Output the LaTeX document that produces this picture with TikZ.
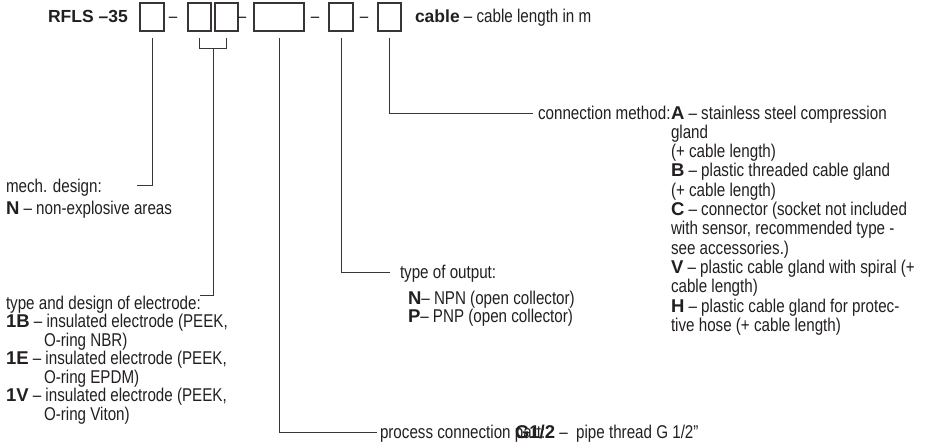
\documentclass[tikz,border=0pt]{standalone}
\usepackage{fontspec}
\setmainfont{Liberation Sans}[FakeStretch=0.82]
\newfontfamily\widefont{Liberation Sans}
\newcommand\bb[1]{{\widefont\bfseries #1}}
\definecolor{ink}{HTML}{231F20}
\tikzset{
  txt/.style={inner sep=0pt, outer sep=0pt, anchor=base west, text=ink,
    font=\fontsize{18.5}{18.5}\selectfont, text height=12pt, text depth=0pt},
  ttl/.style={txt, font=\widefont\bfseries\fontsize{17.5}{17.5}\selectfont},
  box/.style={draw=ink!90, line width=1.1pt, inner sep=0pt, outer sep=0pt, minimum height=28pt},
  conn/.style={draw=ink!90, line width=1pt},
}
\begin{document}
\begin{tikzpicture}[x=1pt,y=-1pt]
\useasboundingbox (0,0) rectangle (925,447);
% title row
\node[ttl] (rf) at (48,22) {RFLS –35};
\node[box, minimum width=24pt] (b1) at (152,17) {};
\node[box, minimum width=23pt] (b2) at (199.5,17) {};
\node[box, minimum width=23pt] (b3) at (226.5,17) {};
\node[box, minimum width=50pt] (b4) at (279,17) {};
\node[box, minimum width=24pt] (b5) at (341,17) {};
\node[box, minimum width=23pt] (b6) at (389.5,17) {};
\node[txt, anchor=base] (d1) at (173,22) {–};
\node[txt, anchor=base] (d2) at (242,22) {–};
\node[txt, anchor=base] (d3) at (315,22) {–};
\node[txt, anchor=base] (d4) at (364,22) {–};
\node[txt] (cab) at (415,22) {{\widefont\bfseries\fontsize{17.5}{17.5}\selectfont cable} – cable length in m};
% mech design
\node[txt] (mech) at (6,192) {mech. design:};
\node[txt] (mechN) at (6,214) {\bb{N} – non-explosive areas};
\coordinate (m1) at (137,185);
% electrode
\node[txt] (el) at (6,309) {type and design of electrode:};
\node[txt] (el1) at (6,327.5) {\bb{1B} – insulated electrode (PEEK,};
\node[txt] (el2) at (44,346) {O-ring NBR)};
\node[txt] (el3) at (6,364.5) {\bb{1E} – insulated electrode (PEEK,};
\node[txt] (el4) at (44,383) {O-ring EPDM)};
\node[txt] (el5) at (6,401.5) {\bb{1V} – insulated electrode (PEEK,};
\node[txt] (el6) at (44,420) {O-ring Viton)};
\coordinate (e1) at (200,295);
\coordinate (brk) at (213,48);
% output
\node[txt] (out) at (400,278) {type of output:};
\node[txt] (outN) at (408,304) {\bb{N}– NPN (open collector)};
\node[txt] (outP) at (408,322) {\bb{P}– PNP (open collector)};
% process connection
\node[txt] (pc) at (380,438) {process connection part:};
\node[txt] (g12) at (515,438) {\bb{G1/2} –\ \ pipe thread G 1/2”};
% connection method
\node[txt, anchor=base east] (cm) at (670.5,119) {connection method:};
\node[txt] (r0) at (671,119) {\bb{A} – stainless steel compression};
\node[txt] (r1) at (671,138.3) {gland};
\node[txt] (r2) at (671,157.6) {(+ cable length)};
\node[txt] (r3) at (671,176.9) {\bb{B} – plastic threaded cable gland};
\node[txt] (r4) at (671,196.2) {(+ cable length)};
\node[txt] (r5) at (671,215.5) {\bb{C} – connector (socket not included};
\node[txt] (r6) at (671,234.8) {with sensor, recommended type -};
\node[txt] (r7) at (671,254.1) {see accessories.)};
\node[txt] (r8) at (671,273.4) {\bb{V} – plastic cable gland with spiral (+};
\node[txt] (r9) at (671,292.7) {cable length)};
\node[txt] (r10) at (671,312) {\bb{H} – plastic cable gland for protec-};
\node[txt] (r11) at (671,331.3) {tive hose (+ cable length)};
% connectors
\draw[conn] ([yshift=-7pt]b1.south) |- (m1);
\draw[conn] ([yshift=-7pt]b2.south) -- ++(0,10) -| ([yshift=-7pt]b3.south);
\draw[conn] (brk) |- (e1);
\draw[conn] ([yshift=-7pt]b4.south) |- ([xshift=-3pt]pc.west);
\draw[conn] ([yshift=-7pt]b5.south) |- ([xshift=-10pt]out.west);
\draw[conn] ([yshift=-7pt]b6.south) |- ([xshift=-5pt]cm.west);
\end{tikzpicture}
\end{document}
